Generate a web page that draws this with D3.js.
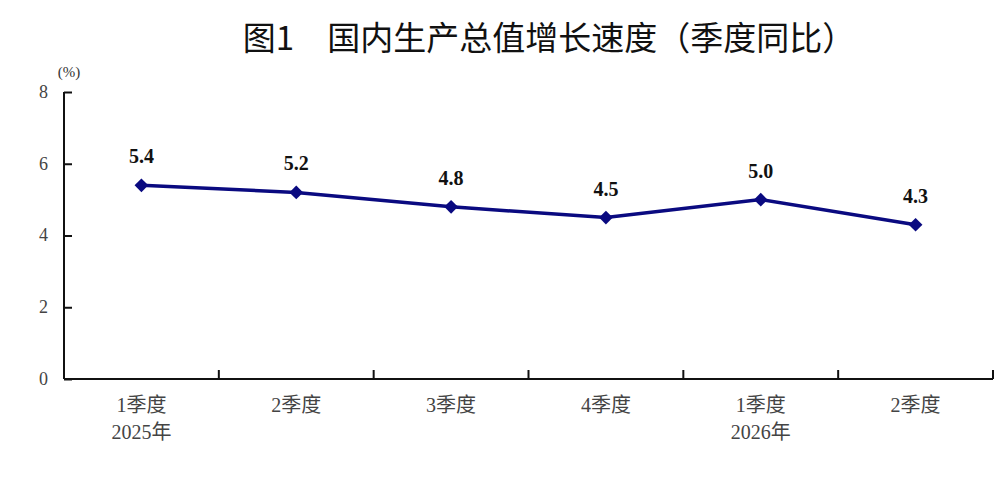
<!DOCTYPE html>
<html lang="zh-CN">
<head>
<meta charset="utf-8">
<script src="https://cdn.jsdelivr.net/npm/d3@7"></script>
<style>
  html, body { margin: 0; padding: 0; background: #fff; overflow: hidden; }
  svg { display: block; overflow: visible; }
</style>
</head>
<body>
<svg id="chart"></svg>
<script>
var quarters = ['1季度', '2季度', '3季度', '4季度', '1季度', '2季度'];
var years = ['2025年', '', '', '', '2026年', ''];
var growth = [5.4, 5.2, 4.8, 4.5, 5.0, 4.3];
var yTicks = [0, 2, 4, 6, 8];

var width = 1000;
var height = 499;
var margin = { top: 92, right: 7, bottom: 120, left: 64 };
var innerWidth = width - margin.left - margin.right;
var innerHeight = height - margin.top - margin.bottom;

var svg = d3.select('#chart')
    .attr('width', width)
    .attr('height', height);

// title
svg.append('text')
    .attr('x', 549)
    .attr('y', 50)
    .attr('text-anchor', 'middle')
    .style('font-family', '"Noto Sans CJK SC", sans-serif')
    .style('font-size', '33px')
    .style('fill', '#111')
    .text('图1　国内生产总值增长速度（季度同比）');

var g = svg.append('g')
    .attr('transform', `translate(${margin.left},${margin.top})`);

var x = d3.scaleBand()
    .domain(d3.range(quarters.length))
    .range([0, innerWidth]);

var y = d3.scaleLinear()
    .domain([0, 8])
    .range([innerHeight, 0]);

var labelFont = '"Liberation Serif", "Noto Sans CJK SC", serif';

// y axis
var yAxis = g.append('g')
    .call(d3.axisLeft(y).tickValues(yTicks).tickSize(-8).tickPadding(16));
yAxis.select('.domain').attr('d', `M0,${innerHeight}V0`);
yAxis.selectAll('line, path').attr('stroke', '#111').attr('stroke-width', 2);
yAxis.selectAll('text')
    .style('font-family', labelFont)
    .style('font-size', '18px')
    .style('fill', '#444')
    .attr('dy', '0.3em');

// unit
g.append('text')
    .attr('x', 5)
    .attr('y', -15)
    .attr('text-anchor', 'middle')
    .style('font-family', labelFont)
    .style('font-size', '15px')
    .style('fill', '#333')
    .text('(%)');

// x axis
var xAxis = g.append('g')
    .attr('transform', `translate(0,${innerHeight})`);
xAxis.append('line')
    .attr('x1', 0).attr('x2', innerWidth)
    .attr('stroke', '#111').attr('stroke-width', 2);
xAxis.selectAll('.tick').data(d3.range(1, quarters.length + 1))
    .enter().append('line')
    .attr('class', 'tick')
    .attr('x1', d => d === quarters.length ? innerWidth : x(d))
    .attr('x2', d => d === quarters.length ? innerWidth : x(d))
    .attr('y1', 0).attr('y2', -9)
    .attr('stroke', '#111').attr('stroke-width', 2);

xAxis.selectAll('text.q').data(quarters)
    .enter().append('text')
    .attr('class', 'q')
    .attr('x', (d, i) => x(i) + x.bandwidth() / 2)
    .attr('y', 33)
    .attr('text-anchor', 'middle')
    .style('font-family', labelFont)
    .style('font-size', '20px')
    .style('fill', '#444')
    .text(d => d);

// only quarters that start a year get a year label
var yearLabels = years.map((d, i) => ({ text: d, i: i })).filter(d => d.text);
xAxis.selectAll('text.yr').data(yearLabels)
    .enter().append('text')
    .attr('class', 'yr')
    .attr('x', d => x(d.i) + x.bandwidth() / 2)
    .attr('y', 60)
    .attr('text-anchor', 'middle')
    .style('font-family', labelFont)
    .style('font-size', '20px')
    .style('fill', '#444')
    .text(d => d.text);

// line
var line = d3.line()
    .x((d, i) => x(i) + x.bandwidth() / 2)
    .y(d => y(d));

g.append('path')
    .datum(growth)
    .attr('d', line)
    .attr('fill', 'none')
    .attr('stroke', '#0a0a80')
    .attr('stroke-width', 3.5);

var diamond = d3.symbol().type(d3.symbolDiamond2).size(120);
g.selectAll('path.marker').data(growth)
    .enter().append('path')
    .attr('class', 'marker')
    .attr('d', diamond)
    .attr('transform', (d, i) => `translate(${x(i) + x.bandwidth() / 2},${y(d)})`)
    .attr('fill', '#0a0a80');

g.selectAll('text.val').data(growth)
    .enter().append('text')
    .attr('class', 'val')
    .attr('x', (d, i) => x(i) + x.bandwidth() / 2)
    .attr('y', d => y(d) - 22)
    .attr('text-anchor', 'middle')
    .style('font-family', labelFont)
    .style('font-size', '20px')
    .style('font-weight', 'bold')
    .style('fill', '#111')
    .text(d => d.toFixed(1));
</script>
</body>
</html>
